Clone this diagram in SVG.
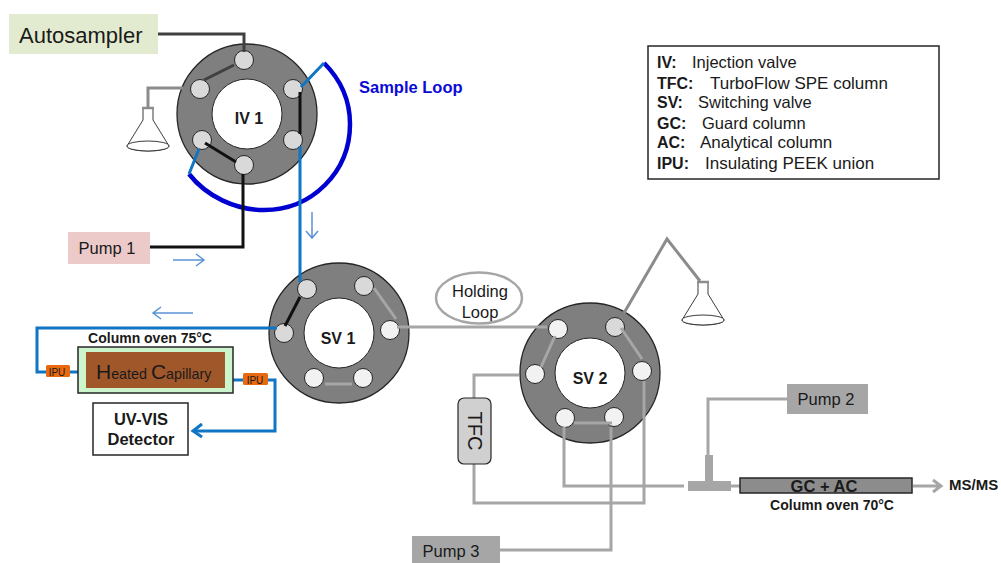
<svg xmlns="http://www.w3.org/2000/svg" width="1001" height="563" viewBox="0 0 1001 563">
<style>
text{font-family:"Liberation Sans",Arial,sans-serif;fill:#1a1a1a}
.b{font-weight:700}
.m{text-anchor:middle}
.disc{fill:#7f7f7f;stroke:#262626;stroke-width:1.3}
.hub{fill:#fff;stroke:#262626;stroke-width:1}
.p1{fill:#d9d9d9;stroke:#262626;stroke-width:1}
.p2{fill:#f2f2f2;stroke:#262626;stroke-width:1}
.l{fill:none;stroke-linejoin:miter}
.blk{stroke:#111;stroke-width:3}
.dk{stroke:#404040;stroke-width:3}
.g{stroke:#a6a6a6;stroke-width:3}
.g2{stroke:#8c8c8c;stroke-width:3}
.blu{stroke:#0f75c4;stroke-width:3}
.thin{stroke:#5b93d3;stroke-width:1.5}
.fl{fill:#fff;stroke:#262626;stroke-width:0.9}
.ipu{fill:#e8690f}
</style>
<defs>
<g id="flask">
<path class="fl" d="M-5 -39V-27L-21 -1A21 5 0 0 0 21 -1L5 -27V-39"/>
<ellipse class="fl" cx="0" cy="-1" rx="21" ry="5"/>
<path d="M-6 -39H6" stroke="#8c8c8c" stroke-width="2.5" fill="none"/>
</g>
</defs>

<g id="valve-iv1">
<circle class="disc" cx="247" cy="114" r="70"/>
<circle class="hub" cx="247" cy="114" r="35"/>
<circle class="p1" cx="244" cy="60" r="9.5"/>
<circle class="p1" cx="200" cy="89" r="9.5"/>
<circle class="p1" cx="293" cy="89" r="9.5"/>
<circle class="p1" cx="202" cy="140" r="9.5"/>
<circle class="p1" cx="293" cy="140" r="9.5"/>
<circle class="p1" cx="244" cy="165" r="9.5"/>
<text class="b m" x="249" y="124" font-size="16">IV 1</text>
</g>
<g id="valve-sv1">
<circle class="disc" cx="339" cy="333" r="70"/>
<circle class="hub" cx="339" cy="333" r="35"/>
<circle class="p1" cx="307" cy="289" r="9.5"/>
<circle class="p1" cx="364" cy="286" r="9.5"/>
<circle class="p2" cx="390" cy="330" r="9.5"/>
<circle class="p1" cx="284" cy="333" r="9.5"/>
<circle class="p2" cx="314" cy="378" r="9.5"/>
<circle class="p2" cx="363" cy="378" r="9.5"/>
<text class="b m" x="338" y="344" font-size="16">SV 1</text>
</g>
<g id="valve-sv2">
<circle class="disc" cx="590" cy="373" r="70"/>
<circle class="hub" cx="590" cy="373" r="35"/>
<circle class="p2" cx="558" cy="329" r="9.5"/>
<circle class="p1" cx="615" cy="327" r="9.5"/>
<circle class="p2" cx="642" cy="371" r="9.5"/>
<circle class="p2" cx="535" cy="374" r="9.5"/>
<circle class="p2" cx="565" cy="418" r="9.5"/>
<circle class="p2" cx="614" cy="417" r="9.5"/>
<text class="b m" x="590" y="384" font-size="16">SV 2</text>
</g>

<g id="connectors">
<path class="l dk" d="M157 34H244V52"/>
<path class="l dk" d="M204 80L234 65"/>
<path class="l g2" d="M183 88H148V108"/>
<path class="l" stroke="#0000d0" stroke-width="4.5" d="M324 63C341 80 350 100 350 124C350 172 312 210 264 210C236 210 207 197 189 174"/>
<path class="l blu" d="M301 87L324 63M199 149L189 174"/>
<path class="l blk" d="M300 92V134"/>
<path class="l blk" d="M205 143L236 162"/>
<path class="l blk" d="M149 247H243V174"/>
<path class="l blu" d="M300 146V282"/>
<path class="l thin" d="M312 212V238M306 231L312 238L318 231"/>
<path class="l thin" d="M173 260H203M196 254L204 260L196 266"/>
<path class="l thin" d="M193 313H153M161 307L153 313L161 319"/>
<path class="l blk" d="M300 297L285 326"/>
<path class="l blu" d="M277 328H37V372H46"/>
<path class="l blu" d="M70 372H78"/>
<path class="l blu" d="M233 380H244"/>
<path class="l blu" d="M267 380H275V431H194"/>
<path class="l" stroke="#0f75c4" stroke-width="3" d="M202 424L193 431L202 437"/>
<path class="l g" d="M374 288L396 319"/>
<path class="l g" d="M325 384H352"/>
<path class="l g" d="M397 327H547"/>
<path class="l g" d="M555 336L541 367"/>
<path class="l g2" d="M624 313L667 239L700 281"/>
<path class="l g" d="M621 328L642 359"/>
<path class="l g" d="M519 375H474V398"/>
<path class="l g" d="M474 464V503H644V381"/>
<path class="l g" d="M574 423H612"/>
<path class="l g" d="M564 427V486H684"/>
<path class="l g" d="M611 427V550H500"/>
<path class="l g" d="M787 399H708V456"/>
<path class="l g" d="M730 486H741"/>
<path class="l g" d="M913 486H940M933 480L941 486L933 492"/>
<path d="M705 455H713V481H731V491H688V481H705Z" fill="#a6a6a6"/>
</g>

<g id="flask-1"><use href="#flask" x="148" y="147"/></g>
<g id="flask-2"><use href="#flask" x="703" y="321"/></g>

<g id="autosampler"><rect x="9" y="14" width="149" height="40" fill="#e2ebcf"/><text x="19" y="43" font-size="22">Autosampler</text></g>
<g id="sample-loop"><text class="b" x="359" y="93" font-size="16.500" style="fill:#0b0bd6">Sample Loop</text></g>
<g id="pump-1"><rect x="68" y="232" width="82" height="32" fill="#eccaca"/><text class="m" x="107" y="254" font-size="16.500">Pump 1</text></g>

<g id="column-oven-75">
<text class="b m" x="150" y="343" font-size="14">Column oven 75°C</text>
<rect x="78" y="347" width="155" height="46" fill="#ccf5cc" stroke="#262626" stroke-width="1.5"/>
<rect x="86" y="352" width="139" height="36" fill="#a0572a"/>
<text x="96" y="379"><tspan font-size="21">H</tspan><tspan font-size="14.300">eated </tspan><tspan font-size="21">C</tspan><tspan font-size="14.300">apillary</tspan></text>
</g>
<g id="ipu-1"><rect class="ipu" x="46" y="365" width="24" height="12" rx="1.500"/><text class="m" x="57" y="376" font-size="10">IPU</text></g>
<g id="ipu-2"><rect class="ipu" x="243" y="373" width="25" height="12" rx="1.500"/><text class="m" x="255" y="384" font-size="10">IPU</text></g>
<g id="uv-vis"><rect x="93" y="403" width="95" height="52" fill="#fff" stroke="#262626" stroke-width="1.5"/><text class="b m" x="141" y="425" font-size="16.500">UV-VIS</text><text class="b m" x="141" y="445" font-size="16.500">Detector</text></g>

<g id="holding-loop"><ellipse cx="479" cy="298" rx="43" ry="25.500" fill="#fff" stroke="#a6a6a6" stroke-width="2.500"/><text class="m" x="480" y="297" font-size="16.500">Holding</text><text class="m" x="480" y="318" font-size="16.500">Loop</text></g>
<g id="tfc"><rect x="458" y="398" width="33" height="66" rx="6" fill="#d0d0d0" stroke="#262626" stroke-width="1.2"/><text class="m" transform="translate(468 431) rotate(90)" font-size="20">TFC</text></g>
<g id="pump-3"><rect x="412" y="536" width="88" height="27" fill="#a6a6a6"/><text class="m" x="451" y="557" font-size="16.500">Pump 3</text></g>
<g id="pump-2"><rect x="787" y="384" width="81" height="30" fill="#a6a6a6"/><text class="m" x="826" y="405" font-size="16.500">Pump 2</text></g>
<g id="gc-ac"><rect x="740" y="478" width="172" height="15" fill="#8c8c8c" stroke="#262626" stroke-width="1.5"/><text class="b m" x="824" y="492" font-size="16.500">GC + AC</text><text class="b m" x="832" y="510" font-size="14">Column oven 70°C</text></g>
<g id="ms"><text class="b" x="949" y="490" font-size="15">MS/MS</text></g>

<g id="legend">
<rect x="648" y="46" width="291" height="133" fill="#fff" stroke="#262626" stroke-width="1.5"/>
<g font-size="16.500">
<text class="b" x="657" y="68" font-size="16">IV:</text><text x="692" y="68">Injection valve</text>
<text class="b" x="657" y="89" font-size="16">TFC:</text><text x="710" y="89" font-size="17">TurboFlow SPE column</text>
<text class="b" x="657" y="108" font-size="16">SV:</text><text x="698" y="108">Switching valve</text>
<text class="b" x="657" y="129" font-size="16">GC:</text><text x="702" y="129">Guard column</text>
<text class="b" x="657" y="148" font-size="16">AC:</text><text x="700" y="148" font-size="17">Analytical column</text>
<text class="b" x="657" y="169" font-size="16">IPU:</text><text x="705" y="169" font-size="17">Insulating PEEK union</text>
</g>
</g>
</svg>
